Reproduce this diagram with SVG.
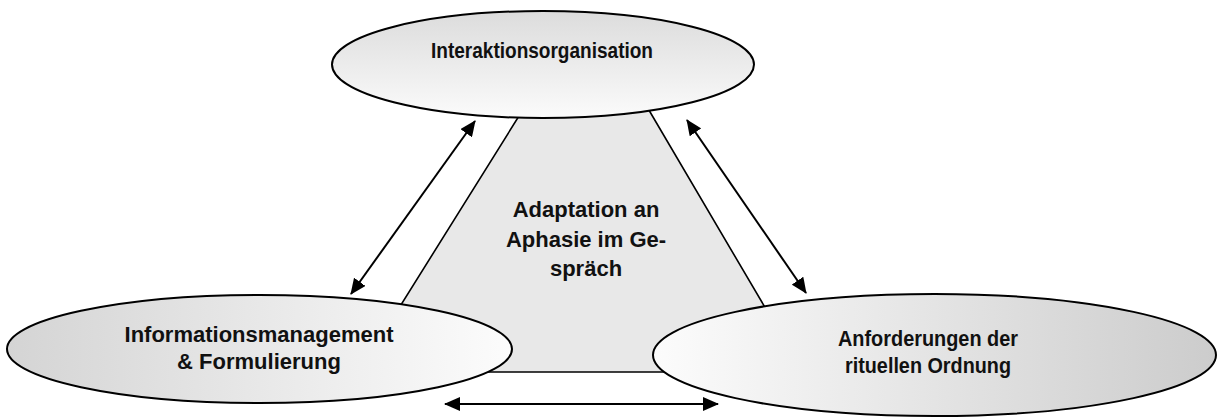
<svg xmlns="http://www.w3.org/2000/svg" width="1219" height="419" viewBox="0 0 1219 419">
<style>
.el{stroke:#000;stroke-width:2}
.t{font-family:"Liberation Sans",Arial,sans-serif;font-size:22px;font-weight:bold;fill:#111;text-anchor:middle}
.ln{stroke:#000;stroke-width:1.6;fill:none}
.ar{stroke:#000;stroke-width:2;fill:none;marker-start:url(#ah);marker-end:url(#ah)}
</style>
<defs>
<linearGradient id="gTop" x1="0" y1="0" x2="0" y2="1">
<stop offset="0" stop-color="#dcdcdc"/><stop offset="1" stop-color="#fbfbfb"/>
</linearGradient>
<linearGradient id="gLeft" x1="0" y1="0" x2="1" y2="0">
<stop offset="0" stop-color="#d4d4d4"/><stop offset="1" stop-color="#fcfcfc"/>
</linearGradient>
<linearGradient id="gRight" x1="0" y1="0" x2="1" y2="0">
<stop offset="0" stop-color="#fcfcfc"/><stop offset="1" stop-color="#cccccc"/>
</linearGradient>
<marker id="ah" viewBox="0 0 16 14" refX="15" refY="7" markerWidth="16" markerHeight="14" markerUnits="userSpaceOnUse" orient="auto-start-reverse">
<path d="M0,0 L16,7 L0,14 Z" fill="#000"/>
</marker>
</defs>
<g id="center">
<polygon points="529,100 643,100 803,372 359,372" fill="#e8e8e8" stroke="none"/>
<path class="ln" d="M529,100 L359,372 L803,372 L643,100"/>
<text class="t" x="586" y="217">Adaptation an</text>
<text class="t" x="586" y="247">Aphasie im Ge-</text>
<text class="t" x="586" y="276">spräch</text>
</g>
<g id="top">
<ellipse class="el" cx="543" cy="64.5" rx="211" ry="53.5" fill="url(#gTop)"/>
<text class="t" x="542" y="58" textLength="222" lengthAdjust="spacingAndGlyphs">Interaktionsorganisation</text>
</g>
<g id="left">
<ellipse class="el" cx="259.5" cy="349" rx="252.5" ry="54" fill="url(#gLeft)"/>
<text class="t" x="259" y="342">Informationsmanagement</text>
<text class="t" x="259" y="369">&amp; Formulierung</text>
</g>
<g id="right">
<ellipse class="el" cx="934.5" cy="355" rx="281.5" ry="61" fill="url(#gRight)"/>
<text class="t" x="928" y="346" textLength="180" lengthAdjust="spacingAndGlyphs">Anforderungen der</text>
<text class="t" x="928" y="373" textLength="166" lengthAdjust="spacingAndGlyphs">rituellen Ordnung</text>
</g>
<g id="connectors">
<line class="ar" x1="351" y1="294" x2="475" y2="121"/>
<line class="ar" x1="687" y1="120" x2="806" y2="293"/>
<line class="ar" x1="445" y1="404" x2="718" y2="404"/>
</g>
</svg>
